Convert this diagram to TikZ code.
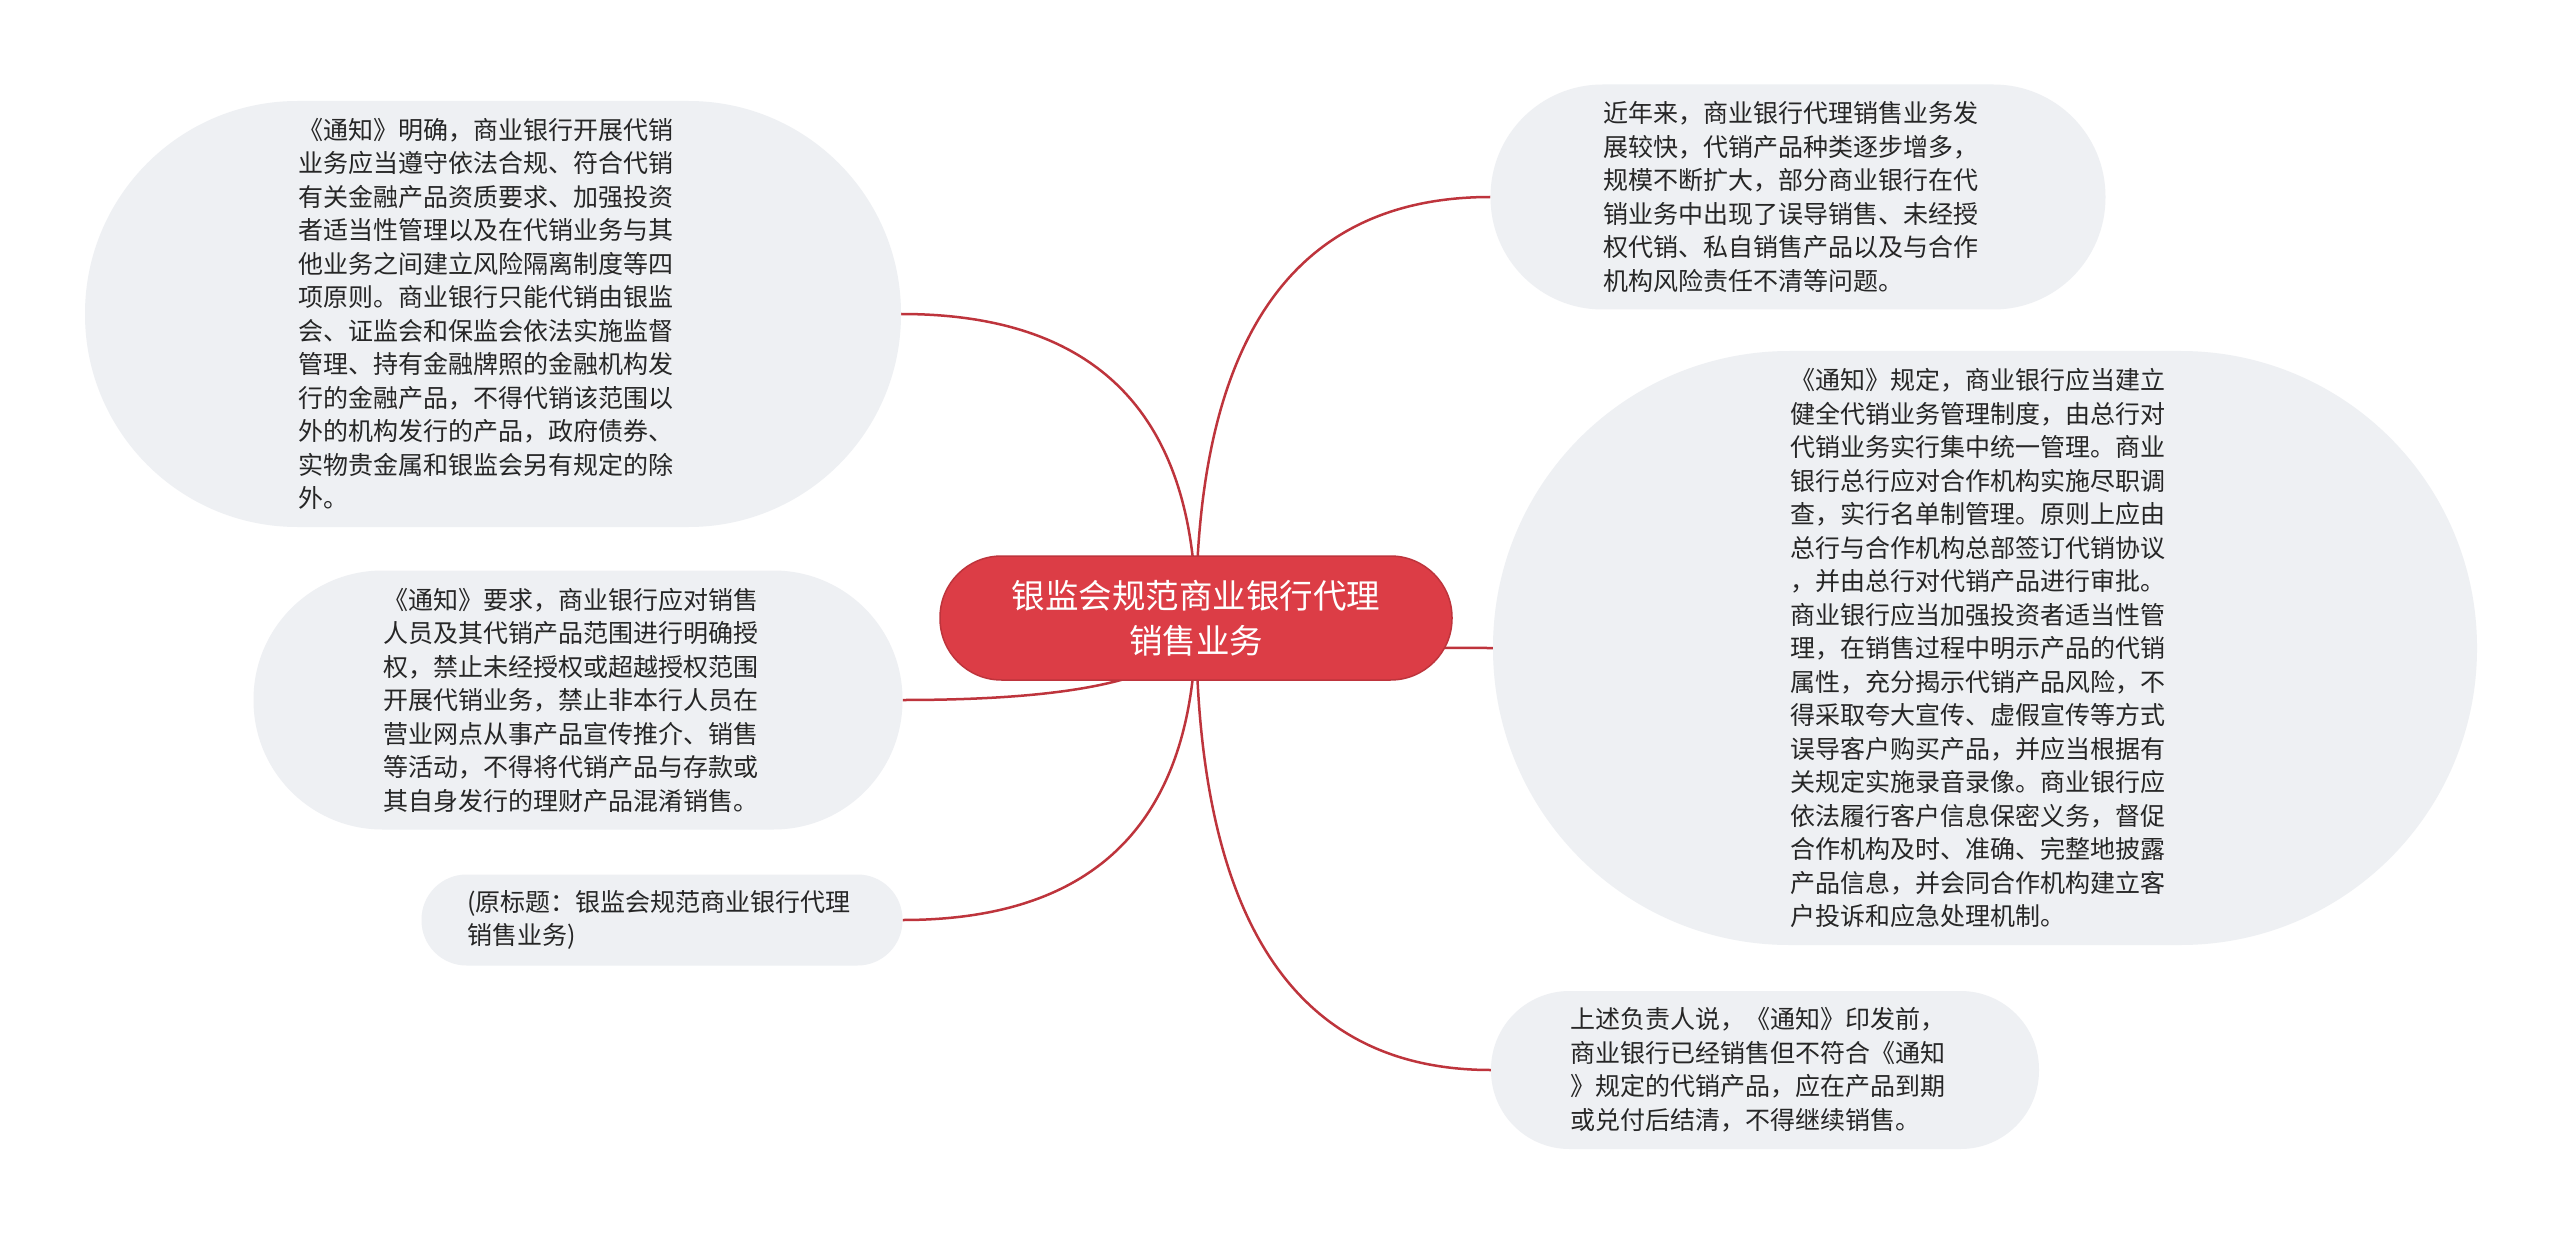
\documentclass[tikz,border=0pt]{standalone}
\usepackage{fontspec}
\setmainfont{Noto Sans CJK SC}
\usetikzlibrary{calc,backgrounds}
\definecolor{rootred}{HTML}{DC3D46}
\definecolor{linered}{HTML}{BE343C}
\definecolor{leafbg}{HTML}{EEF0F3}
\definecolor{leaftext}{HTML}{262626}
\tikzset{
  leaf/.style={draw=none, fill=leafbg, text=leaftext, align=left, text width=390pt,
    inner sep=0pt, font=\fontsize{25}{33.5}\selectfont},
  rootnode/.style={fill=rootred, draw=linered, line width=1.5pt, text=white, align=center,
    inner sep=0pt, minimum width=512pt, minimum height=124pt, rounded corners=61.5pt,
    font=\fontsize{33.5}{45}\selectfont},
  conn/.style={draw=linered, line width=2.5pt},
}
\begin{document}
\begin{tikzpicture}[x=1pt,y=-1pt]
\useasboundingbox (0,0) rectangle (2560,1233);

\node[rootnode] (root) at (1196,618) {银监会规范商业银行代理\\销售业务};

\node[leaf, minimum height=426pt, minimum width=816pt, rounded corners=212.5pt] (A) at (493,314)
{《通知》明确，商业银行开展代销\\业务应当遵守依法合规、符合代销\\有关金融产品资质要求、加强投资\\者适当性管理以及在代销业务与其\\他业务之间建立风险隔离制度等四\\项原则。商业银行只能代销由银监\\会、证监会和保监会依法实施监督\\管理、持有金融牌照的金融机构发\\行的金融产品，不得代销该范围以\\外的机构发行的产品，政府债券、\\实物贵金属和银监会另有规定的除\\外。};

\node[leaf, minimum height=259pt, minimum width=649pt, rounded corners=129pt] (B) at (578,700)
{《通知》要求，商业银行应对销售\\人员及其代销产品范围进行明确授\\权，禁止未经授权或超越授权范围\\开展代销业务，禁止非本行人员在\\营业网点从事产品宣传推介、销售\\等活动，不得将代销产品与存款或\\其自身发行的理财产品混淆销售。};

\node[leaf, minimum height=91pt, minimum width=481pt, rounded corners=45pt] (F) at (662,920)
{(原标题：银监会规范商业银行代理\\销售业务)};

\node[leaf, minimum height=225pt, minimum width=615pt, rounded corners=112pt] (C) at (1798,197)
{近年来，商业银行代理销售业务发\\展较快，代销产品种类逐步增多，\\规模不断扩大，部分商业银行在代\\销业务中出现了误导销售、未经授\\权代销、私自销售产品以及与合作\\机构风险责任不清等问题。};

\node[leaf, minimum height=594pt, minimum width=984pt, rounded corners=296.5pt] (D) at (1985,648)
{《通知》规定，商业银行应当建立\\健全代销业务管理制度，由总行对\\代销业务实行集中统一管理。商业\\银行总行应对合作机构实施尽职调\\查，实行名单制管理。原则上应由\\总行与合作机构总部签订代销协议\\，并由总行对代销产品进行审批。\\商业银行应当加强投资者适当性管\\理，在销售过程中明示产品的代销\\属性，充分揭示代销产品风险，不\\得采取夸大宣传、虚假宣传等方式\\误导客户购买产品，并应当根据有\\关规定实施录音录像。商业银行应\\依法履行客户信息保密义务，督促\\合作机构及时、准确、完整地披露\\产品信息，并会同合作机构建立客\\户投诉和应急处理机制。};

\node[leaf, minimum height=158pt, minimum width=548pt, rounded corners=78.5pt] (E) at (1765,1070)
{上述负责人说，《通知》印发前，\\商业银行已经销售但不符合《通知\\》规定的代销产品，应在产品到期\\或兑付后结清，不得继续销售。};

\begin{pgfonlayer}{background}
\fill[white] (0,0) rectangle (2560,1233);
\foreach \n/\s in {A/east, B/east, F/east, C/west, D/west, E/west}{
  \coordinate (q\n) at (root.center |- \n.\s);
  \draw[conn] (root.center) .. controls ($(root.center)!0.6667!(q\n)$) and ($(\n.\s)!0.6667!(q\n)$) .. (\n.\s);
}
\end{pgfonlayer}
\end{tikzpicture}
\end{document}
